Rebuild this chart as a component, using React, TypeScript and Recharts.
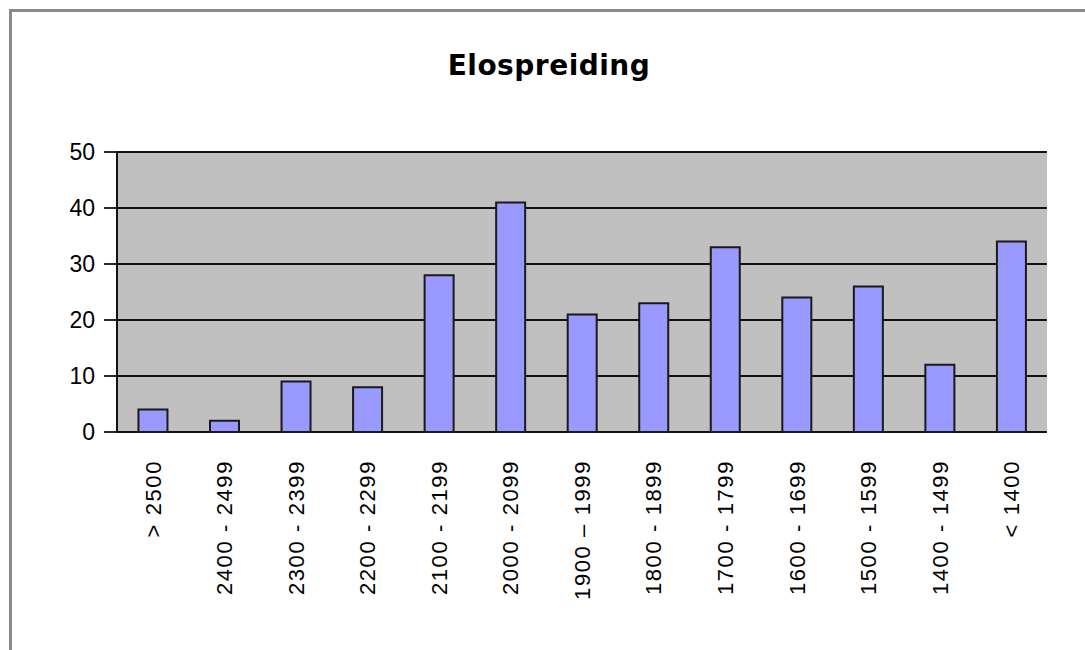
import React from 'react';
import { BarChart, Bar, XAxis, YAxis, CartesianGrid } from 'recharts';

const categories = [
  '> 2500',
  '2400 - 2499',
  '2300 - 2399',
  '2200 - 2299',
  '2100 - 2199',
  '2000 - 2099',
  '1900 – 1999',
  '1800 - 1899',
  '1700 - 1799',
  '1600 - 1699',
  '1500 - 1599',
  '1400 - 1499',
  '< 1400',
];
const counts = [4, 2, 9, 8, 28, 41, 21, 23, 33, 24, 26, 12, 34];
const yTicks = [0, 10, 20, 30, 40, 50];
const edgeTicks = Array.from({ length: categories.length + 1 }, (_, i) => i);

const data = categories.map((label, i) => ({ label, count: counts[i] }));

const FONT = '"Liberation Sans", Arial, sans-serif';

const CategoryTick = (props: any) => {
  const { x, y, payload } = props;
  return (
    <text
      transform={`translate(${x},${y + 28}) rotate(-90)`}
      textAnchor="end"
      dy="0.36em"
      fontSize={22}
      fill="#000"
      fontFamily={FONT}
      letterSpacing={1.6}
    >
      {payload.value}
    </text>
  );
};

export default function App() {
  return (
    <div
      style={{
        position: 'fixed',
        left: 0,
        top: 0,
        width: 1085,
        height: 650,
        overflow: 'hidden',
        background: '#fff',
      }}
    >
      <div
        style={{
          position: 'absolute',
          left: 9,
          top: 9,
          width: 1200,
          height: 800,
          border: '3px solid #8a8a8a',
        }}
      />
      <div
        style={{
          position: 'absolute',
          left: 0,
          top: 52,
          width: 1098,
          textAlign: 'center',
          fontFamily: '"DejaVu Sans", Verdana, sans-serif',
          fontWeight: 'bold',
          fontSize: 28,
          lineHeight: '28px',
          letterSpacing: 0.5,
          color: '#000',
        }}
      >
        Elospreiding
      </div>
      <div style={{ position: 'absolute', left: 0, top: 0 }}>
        <BarChart
          width={1085}
          height={650}
          data={data}
          margin={{ top: 152, right: 38, left: 17, bottom: 18 }}
          barCategoryGap="30%"
        >
          <CartesianGrid
            vertical={false}
            fill="#C0C0C0"
            stroke="#111"
            strokeWidth={1.8}
            xAxisId="edge"
          />
          <XAxis
            xAxisId="edge"
            type="number"
            domain={[0, categories.length]}
            ticks={edgeTicks}
            allowDataOverflow
            height={0}
            tickSize={12}
            tickFormatter={() => ''}
            axisLine={{ stroke: '#111', strokeWidth: 2 }}
            tickLine={{ stroke: '#333', strokeWidth: 1.8 }}
          />
          <XAxis
            xAxisId="cat"
            dataKey="label"
            height={200}
            interval={0}
            tickSize={0}
            tickMargin={0}
            tickLine={false}
            axisLine={false}
            tick={<CategoryTick />}
          />
          <YAxis
            domain={[0, 50]}
            ticks={yTicks}
            interval={0}
            width={100}
            tickSize={13}
            tickMargin={9}
            axisLine={{ stroke: '#111', strokeWidth: 2 }}
            tickLine={{ stroke: '#111', strokeWidth: 1.8 }}
            tick={{ fill: '#000', fontSize: 23, fontFamily: FONT }}
          />
          <Bar
            xAxisId="cat"
            dataKey="count"
            fill="#9999FF"
            stroke="#1a1a1a"
            strokeWidth={2}
            isAnimationActive={false}
          />
        </BarChart>
      </div>
    </div>
  );
}
